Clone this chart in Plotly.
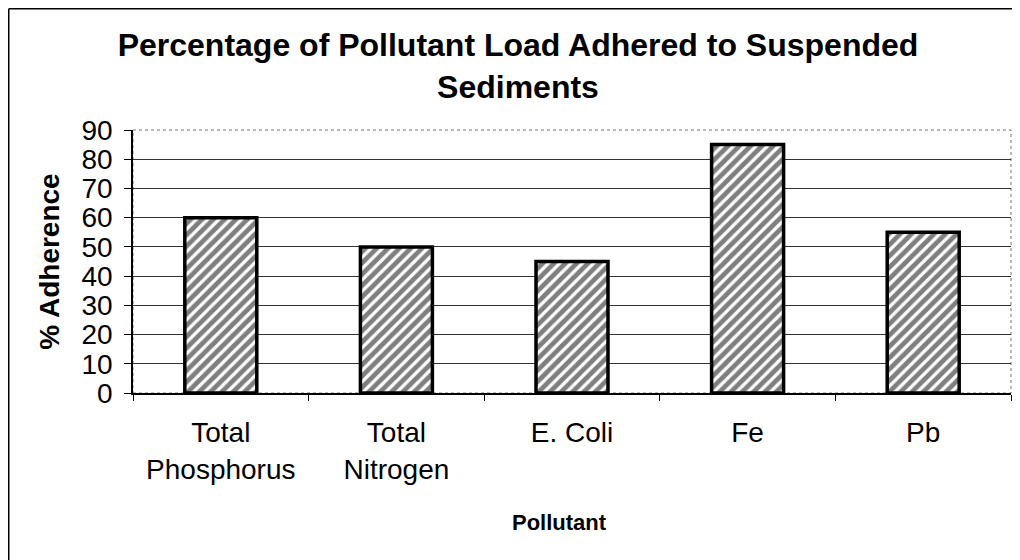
import plotly.graph_objects as go

categories = ["Total<br>Phosphorus", "Total<br>Nitrogen", "E. Coli", "Fe", "Pb"]
adherence = [60, 50, 45, 85, 55]
y_ticks = [0, 10, 20, 30, 40, 50, 60, 70, 80, 90]

FONT = "Arial, Liberation Sans, Helvetica, sans-serif"

# The page has an 8px body margin, so the figure is sized to fit inside the window.
W, H = 1012, 552
L, R, T, B = 125, 9, 122, 167
pw, ph = W - L - R, H - T - B

def fx(x):  # figure pixel -> paper x
    return (x - L) / pw

def fy(y):  # figure pixel -> paper y
    return (H - B - y) / ph

fig = go.Figure()
fig.add_trace(go.Bar(
    x=categories,
    y=adherence,
    marker=dict(
        color="white",
        line=dict(color="black", width=3.5),
        pattern=dict(shape="/", fgcolor="black", bgcolor="white", size=8, solidity=0.6),
    ),
    showlegend=False,
))

shapes = [
    dict(type="rect", xref="paper", yref="paper", x0=0, x1=1, y0=0, y1=1,
         line=dict(color="#777777", width=1, dash="dot"), layer="below"),
    dict(type="line", xref="paper", yref="paper", x0=fx(0.75), x1=fx(0.75), y0=fy(0.75), y1=fy(H),
         line=dict(color="black", width=1.5)),
    dict(type="line", xref="paper", yref="paper", x0=fx(0.75), x1=fx(W - 2), y0=fy(0.75), y1=fy(0.75),
         line=dict(color="black", width=1.5)),
]

fig.update_layout(
    width=W, height=H,
    margin=dict(l=L, r=R, t=T, b=B, autoexpand=False),
    paper_bgcolor="white",
    plot_bgcolor="white",
    bargap=0.59,
    font=dict(family=FONT, color="black"),
    title=dict(
        text="<b>Percentage of Pollutant Load Adhered to Suspended<br>Sediments</b>",
        font=dict(size=32, family=FONT, color="black"),
        x=510 / W, xanchor="center", xref="container",
        y=1 - 48 / H, yanchor="top", yref="container",
    ),
    shapes=shapes,
    annotations=[
        dict(text="<b>Pollutant</b>", xref="paper", yref="paper",
             x=fx(551), y=fy(514), xanchor="center", yanchor="middle", showarrow=False,
             font=dict(size=22, family=FONT, color="black")),
    ],
    xaxis=dict(
        showline=True, linecolor="black", linewidth=1.5,
        ticks="outside", tickson="boundaries", ticklen=6, tickcolor="black",
        tickfont=dict(size=28, family=FONT, color="black"),
        ticklabelstandoff=14,
        showgrid=False,
    ),
    yaxis=dict(
        range=[0, 90], tickvals=y_ticks, ticktext=[str(v) for v in y_ticks],
        showline=True, linecolor="black", linewidth=1.5,
        ticks="outside", ticklen=7, tickcolor="black",
        tickfont=dict(size=28, family=FONT, color="black"),
        ticklabelstandoff=6,
        showgrid=True, gridcolor="#333333", gridwidth=1,
        zeroline=False,
        title=dict(text="<b>% Adherence</b>", font=dict(size=28, family=FONT, color="black"), standoff=14),
    ),
)

fig.write_html("out.html")
